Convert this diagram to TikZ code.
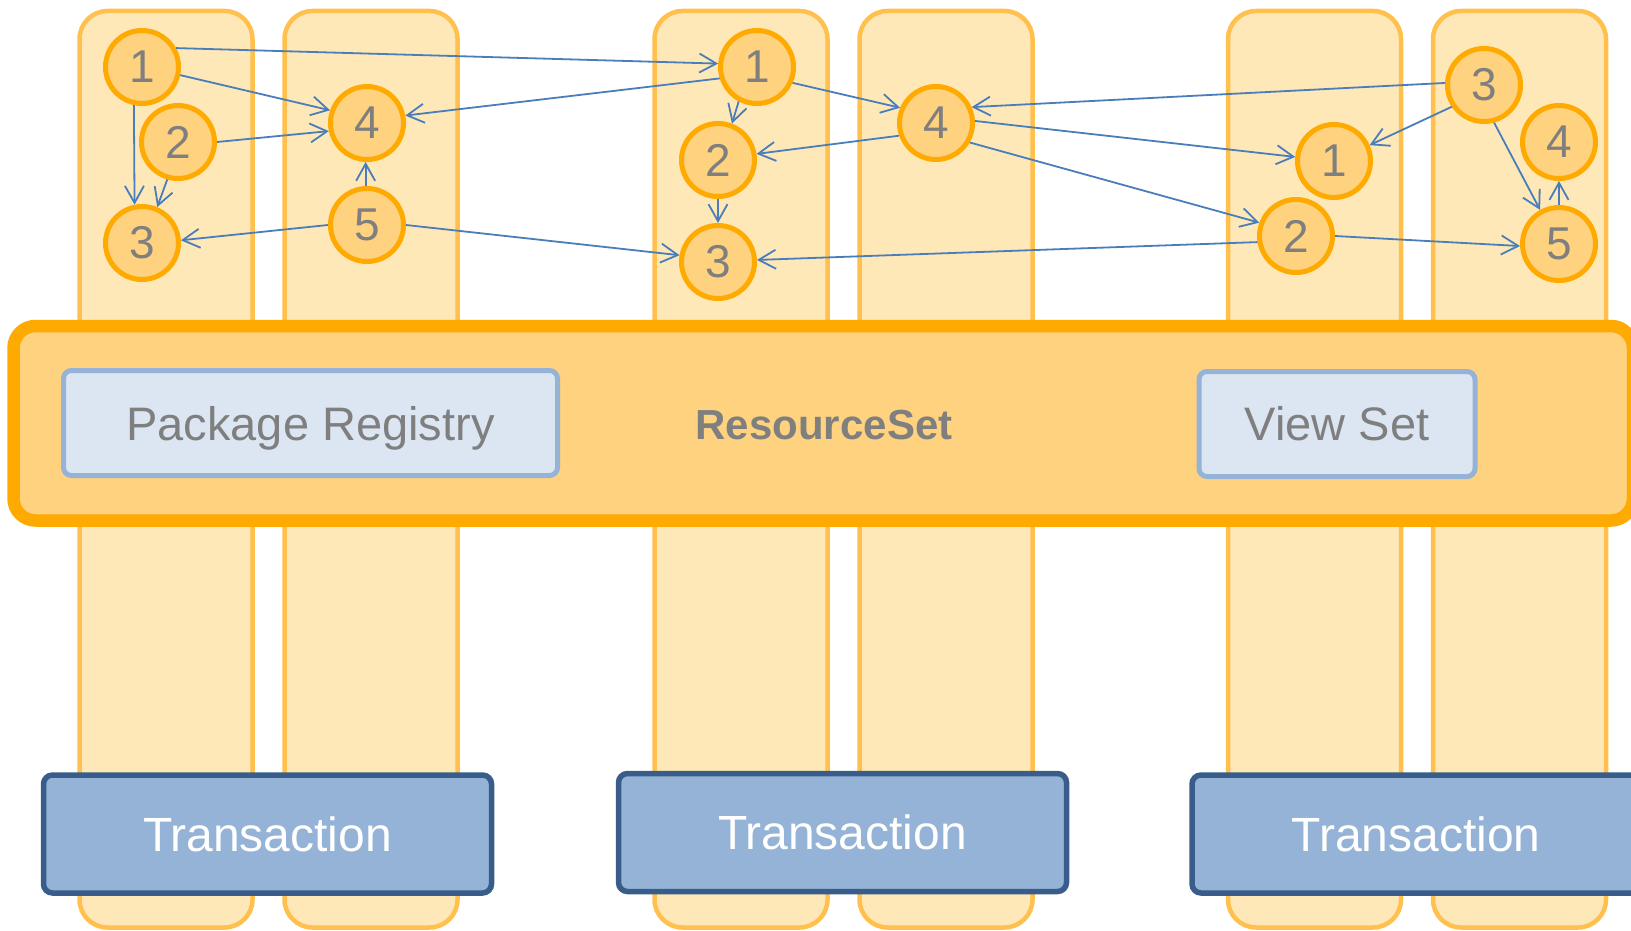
\documentclass[tikz,border=0pt]{standalone}
\usepackage{fontspec}
\setmainfont{Liberation Sans}
\usetikzlibrary{arrows.meta}
\definecolor{colfill}{HTML}{FEE8B7}
\definecolor{coldraw}{HTML}{FFC04D}
\definecolor{bandfill}{HTML}{FED27F}
\definecolor{banddraw}{HTML}{FFAA00}
\definecolor{txtgray}{HTML}{7F7F7F}
\definecolor{pkgfill}{HTML}{DCE6F2}
\definecolor{pkgdraw}{HTML}{95B3D7}
\definecolor{trfill}{HTML}{95B3D7}
\definecolor{trdraw}{HTML}{385D8A}
\definecolor{arrblue}{HTML}{4A7EBB}
\begin{document}
\begin{tikzpicture}[x=1pt,y=-1pt,
  column/.style={rectangle,draw=coldraw,fill=colfill,line width=4.5pt,rounded corners=28pt,
    minimum width=173pt,minimum height=916.5pt,inner sep=0pt},
  band/.style={rectangle,draw=banddraw,fill=bandfill,line width=12.5pt,rounded corners=22pt,inner sep=0pt},
  setbox/.style={rectangle,draw=pkgdraw,fill=pkgfill,line width=5pt,rounded corners=8pt,
    inner sep=0pt,minimum height=105pt,text=txtgray,font=\fontsize{47}{47}\selectfont},
  trbox/.style={rectangle,draw=trdraw,fill=trfill,line width=5.5pt,rounded corners=9pt,
    inner sep=0pt,minimum width=448pt,minimum height=118pt,text=white,font=\fontsize{48}{48}\selectfont},
  circ/.style={circle,draw=banddraw,fill=bandfill,line width=5pt,minimum size=73pt,inner sep=0pt,
    text=txtgray,font=\fontsize{46}{46}\selectfont},
  arr/.style={draw=arrblue,line width=1.8pt,-{Straight Barb[length=17pt,width=19pt,line width=1.8pt]}}
]
\useasboundingbox (0,0) rectangle (1631,931);
\clip (0,0) rectangle (1631,931);
% columns
\node[column] (colA) at (166,469.25) {};
\node[column] (colB) at (371,469.25) {};
\node[column] (colC) at (741,469.25) {};
\node[column] (colD) at (946,469.25) {};
\node[column] (colE) at (1314.5,469.25) {};
\node[column] (colF) at (1519.5,469.25) {};
% resource set band
\node[band,minimum width=1619.5pt,minimum height=194.5pt] (band) at (823.25,423.25) {};
\node[text=txtgray,font=\bfseries\fontsize{42}{42}\selectfont] (rs) at (824,425) {ResourceSet};
\node[setbox,minimum width=494pt,text depth=0pt] (pkg) at (310.5,423) {Package Registry};
\node[setbox,minimum width=276pt] (view) at (1337,424) {View Set};
% transactions
\node[trbox] (t1) at (267.5,834) {Transaction};
\node[trbox] (t2) at (842.5,832.5) {Transaction};
\node[trbox] (t3) at (1416,834) {Transaction};
% circles
\node[circ] (A1) at (142,67) {1};
\node[circ] (A2) at (178,142) {2};
\node[circ] (A3) at (142,243) {3};
\node[circ] (B4) at (367,123) {4};
\node[circ] (B5) at (367,225) {5};
\node[circ] (C1) at (757,67) {1};
\node[circ] (C2) at (718,160) {2};
\node[circ] (C3) at (718,262) {3};
\node[circ] (D4) at (936,123) {4};
\node[circ] (E1) at (1334,161) {1};
\node[circ] (E2) at (1296,236) {2};
\node[circ] (F3) at (1484,85) {3};
\node[circ] (F4) at (1559,142) {4};
\node[circ] (F5) at (1559,244) {5};
% arrows
\draw[arr] (A1.29) -- (C1.175);
\draw[arr] (A1.-12) -- (B4.161);
\draw[arr] (A2.0) -- (B4.192);
\draw[arr] (A1.258) -- (A3.101);
\draw[arr] (A2.254) -- (A3.67);
\draw[arr] (B5.180) -- (A3.4);
\draw[arr] (B5.92) -- (B4.268);
\draw[arr] (C1.197) -- (B4.11);
\draw[arr] (B5.0) -- (C3.170);
\draw[arr] (C1.242) -- (C2.69);
\draw[arr] (C2.270) -- (C3.90);
\draw[arr] (C1.-24) -- (D4.157);
\draw[arr] (D4.199) -- (C2.9);
\draw[arr] (F3.177) -- (D4.24);
\draw[arr] (D4.3) -- (E1.174);
\draw[arr] (D4.-30) -- (E2.160);
\draw[arr] (E2.189) -- (C3.3);
\draw[arr] (F3.214) -- (E1.24);
\draw[arr] (F3.-75) -- (F5.119);
\draw[arr] (F5.90) -- (F4.270);
\draw[arr] (E2.0) -- (F5.183);
\end{tikzpicture}
\end{document}
